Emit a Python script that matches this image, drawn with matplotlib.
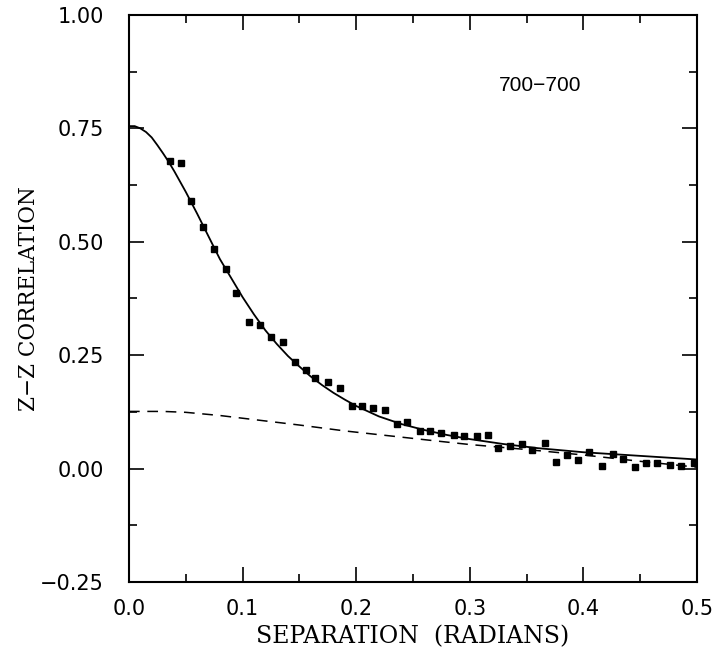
import numpy as np
import matplotlib
matplotlib.use("Agg")
import matplotlib.pyplot as plt
from matplotlib.ticker import MultipleLocator

# measured correlation points (separation in radians, correlation)
sep_pts = [0.036, 0.046, 0.055, 0.065, 0.075, 0.085, 0.094, 0.106, 0.115, 0.125,
           0.136, 0.146, 0.156, 0.164, 0.175, 0.186, 0.196, 0.205, 0.215, 0.225,
           0.236, 0.245, 0.256, 0.265, 0.275, 0.286, 0.295, 0.306, 0.316, 0.325,
           0.335, 0.346, 0.355, 0.366, 0.376, 0.386, 0.395, 0.405, 0.416, 0.426,
           0.435, 0.445, 0.455, 0.465, 0.476, 0.486, 0.497]
corr_pts = [0.679, 0.674, 0.589, 0.532, 0.485, 0.439, 0.387, 0.323, 0.316, 0.289,
            0.278, 0.236, 0.218, 0.200, 0.191, 0.178, 0.138, 0.138, 0.134, 0.130,
            0.098, 0.103, 0.083, 0.082, 0.079, 0.074, 0.072, 0.072, 0.075, 0.046,
            0.049, 0.055, 0.040, 0.057, 0.014, 0.029, 0.018, 0.037, 0.006, 0.032,
            0.022, 0.003, 0.013, 0.013, 0.007, 0.006, 0.013]

# model curve (solid)
sep_fit = [0.0, 0.005, 0.01, 0.015, 0.02, 0.025, 0.03, 0.035, 0.04, 0.05, 0.06,
           0.07, 0.08, 0.09, 0.10, 0.11, 0.12, 0.13, 0.14, 0.15, 0.16, 0.17, 0.18,
           0.19, 0.20, 0.22, 0.24, 0.26, 0.28, 0.30, 0.33, 0.36, 0.40, 0.45, 0.50]
corr_fit = [0.755, 0.755, 0.750, 0.742, 0.730, 0.713, 0.695, 0.676, 0.655, 0.610,
            0.562, 0.512, 0.462, 0.420, 0.378, 0.340, 0.305, 0.275, 0.248, 0.225,
            0.203, 0.184, 0.167, 0.152, 0.138, 0.115, 0.098, 0.085, 0.074, 0.065,
            0.054, 0.045, 0.036, 0.028, 0.020]

# second component (dashed)
sep_dash = [0.0, 0.03, 0.05, 0.08, 0.10, 0.12, 0.15, 0.19, 0.23, 0.27, 0.30,
            0.35, 0.40, 0.45, 0.50]
corr_dash = [0.126, 0.126, 0.124, 0.117, 0.111, 0.105, 0.096, 0.083, 0.072,
             0.061, 0.053, 0.042, 0.030, 0.016, 0.003]

fig = plt.figure(figsize=(7.15, 6.55), dpi=100)
ax = fig.add_axes([0.1804, 0.1115, 0.7944, 0.8656])

ax.plot(sep_fit, corr_fit, color="black", lw=1.3)
ax.plot(sep_dash, corr_dash, color="black", lw=1.1, dashes=(7, 5))
ax.plot(sep_pts, corr_pts, "s", color="black", ms=5)

ax.text(0.362, 0.844, "700\u2212700", fontsize=15, family="Liberation Sans",
        ha="center", va="center")

ax.set_xlim(0, 0.5)
ax.set_ylim(-0.25, 1.0)
ax.xaxis.set_major_locator(MultipleLocator(0.1))
ax.xaxis.set_minor_locator(MultipleLocator(0.05))
ax.yaxis.set_major_locator(MultipleLocator(0.25))
ax.yaxis.set_minor_locator(MultipleLocator(0.125))
ax.xaxis.set_major_formatter(plt.FuncFormatter(lambda v, p: f"{v:.1f}"))
ax.yaxis.set_major_formatter(plt.FuncFormatter(
    lambda v, p: f"{v:.2f}".replace("-", "\u2212")))

ax.tick_params(which="both", direction="in", top=True, right=True,
               labelsize=15, width=1.2)
ax.tick_params(which="major", length=11)
ax.tick_params(which="minor", length=6)
ax.tick_params(axis="x", pad=12)
ax.tick_params(axis="y", pad=18)
for lab in ax.get_xticklabels() + ax.get_yticklabels():
    lab.set_family("DejaVu Sans")
for sp in ax.spines.values():
    sp.set_linewidth(1.5)

ax.set_xlabel("SEPARATION  (RADIANS)", fontsize=17, family="DejaVu Serif",
              labelpad=5)
ax.set_ylabel("Z\u2212Z CORRELATION", fontsize=15.5, family="DejaVu Serif",
              labelpad=0)

fig.savefig("out.png", dpi=100)
